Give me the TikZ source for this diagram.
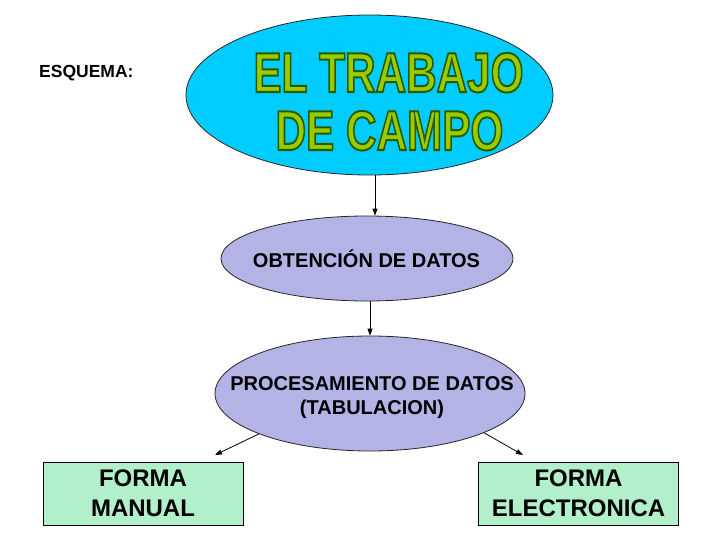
\documentclass[tikz,border=0pt]{standalone}
\usepackage{fontspec}
\setmainfont{Liberation Sans}
\usetikzlibrary{shapes.geometric,arrows.meta}
\definecolor{titlecyan}{RGB}{0,204,255}
\definecolor{titlegreen}{RGB}{153,204,0}
\definecolor{lav}{RGB}{179,179,230}
\definecolor{mint}{RGB}{178,240,204}
\newcommand\outlined[1]{\special{pdf:literal direct 2 Tr 2 w 0.16 0.35 0 RG}#1\special{pdf:literal direct 0 Tr}}
\begin{document}
\begin{tikzpicture}[x=1pt,y=-1pt,
  oval/.style={ellipse, draw=black!85, line width=0.8pt, inner sep=0pt},
  arr/.style={draw=black, line width=0.8pt, -{Triangle[length=7pt,width=5pt]}},
  box/.style={rectangle, draw=black, line width=0.8pt, fill=mint, minimum width=200pt, minimum height=63pt, inner sep=0pt, align=center, font=\fontsize{24}{30}\selectfont\bfseries},
  lbl/.style={font=\fontsize{20}{25}\selectfont\bfseries, inner sep=0pt, anchor=base},
  bigt/.style={font=\fontsize{56}{58}\selectfont\bfseries, inner sep=0pt, anchor=base, text=titlegreen}]
\useasboundingbox (0,0) rectangle (728,546);
\fill[white] (0,0) rectangle (728,546);

% ellipses
\node[oval, fill=titlecyan, minimum width=367pt, minimum height=160pt] (title) at (369.5,95) {};
\node[oval, fill=lav, minimum width=292pt, minimum height=85pt] (obt) at (367,258.5) {};
\node[oval, fill=lav, minimum width=310pt, minimum height=115pt] (proc) at (370,393.5) {};

% title text with outline
\node[bigt] (t1) at (388.5,92) {\scalebox{0.755}[1]{\outlined{EL TRABAJO}}};
\node[bigt] (t2) at (389.5,150) {\scalebox{0.755}[1]{\outlined{DE CAMPO}}};

% labels
\node[font=\fontsize{17.5}{20}\selectfont\bfseries, anchor=base west, inner sep=0pt] (esq) at (39,77) {ESQUEMA:};
\node[lbl] (obttxt) at (366.5,267) {OBTENCIÓN DE DATOS};
\node[lbl] (proctxt1) at (372,390) {PROCESAMIENTO DE DATOS};
\node[lbl] (proctxt2) at (372,414) {(TABULACION)};

% boxes
\node[box] (manual) at (143,493.5) {FORMA\\MANUAL};
\node[box] (elec) at (578.5,493.5) {FORMA\\ELECTRONICA};

% connectors
\coordinate (x1) at (375,0);
\coordinate (x2) at (370,0);
\coordinate (ltip) at (215,455);
\coordinate (rtip) at (523,455);
\draw[arr] (title.south -| x1) -- (obt.north -| x1);
\draw[arr] (obt.south -| x2) -- (proc.north -| x2);
\draw[arr] (proc.200) -- (ltip);
\draw[arr] (proc.-19) -- (rtip);
\end{tikzpicture}
\end{document}
